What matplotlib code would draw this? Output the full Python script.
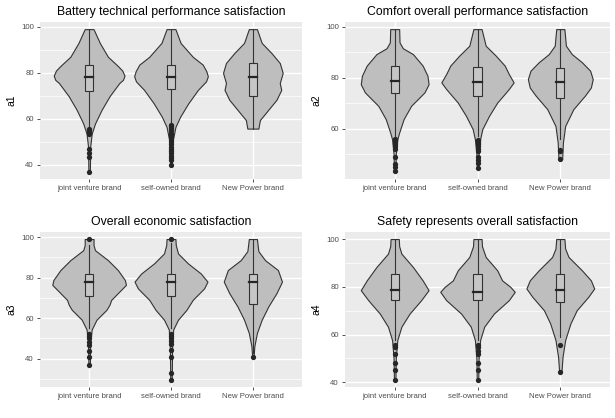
import matplotlib
matplotlib.use("Agg")
import matplotlib.pyplot as plt
from matplotlib.patches import Rectangle
from matplotlib.ticker import MultipleLocator

plt.rcParams['font.family'] = ['Liberation Sans', 'DejaVu Sans']

brands = ["joint venture brand", "self-owned brand", "New Power brand"]
titles = ["Battery technical performance satisfaction",
          "Comfort overall performance satisfaction",
          "Overall economic satisfaction",
          "Safety represents overall satisfaction"]
ylabels = ["a1", "a2", "a3", "a4"]

# violin outlines: (value, relative half width)
a1_joint = [(99, .12), (93, .29), (87, .51), (83, .78), (81, .90), (78.8, .96), (77, .92),
            (75.6, .82), (70, .56), (64, .34), (58, .16), (53.6, .07), (48, .03), (37, .02)]
a1_self = [(99, .12), (93, .26), (87, .59), (83.6, .86), (80.7, .96), (78.5, 1.0), (76.3, .95),
           (72.6, .73), (66.8, .47), (61, .25), (56.5, .12), (50, .04), (40, .02)]
a1_new = [(99, .11), (93, .24), (88.7, .50), (84.3, .73), (80, .81), (75.6, .73), (72.6, .77),
          (68.3, .64), (64, .42), (59.5, .19), (55.8, .15)]

a2_joint = [(99, .12), (93.8, .13), (91.5, .22), (89.2, .49), (84.7, .75), (80.7, .88), (77.4, .91),
            (74.2, .80), (68.9, .44), (63.7, .24), (58.4, .12), (55.8, .07), (50, .03), (43, .02)]
a2_self = [(99, .11), (92.5, .22), (88.6, .49), (84.7, .73), (81.4, .84), (78.1, .97), (75.5, .84),
           (70.2, .53), (65, .31), (59.8, .13), (55.8, .07), (50, .03), (44.5, .02)]
a2_new = [(99, .11), (92.5, .15), (89.2, .31), (86, .58), (82.7, .80), (79.4, .87), (76.1, .82),
          (72.9, .66), (67.6, .35), (61, .13), (54.5, .07), (48, .05)]

a3_joint = [(99, .12), (96, .12), (93.5, .16), (88.6, .51), (83.7, .78), (78.8, .97), (76.4, 1.0),
            (73.1, .82), (69, .60), (66.5, .55), (64.1, .47), (59.2, .20), (54.4, .07), (48, .03), (37, .02)]
a3_self = [(99, .12), (96, .13), (91.9, .19), (87, .46), (82, .81), (78, .99), (74.7, .90),
           (69, .59), (64.1, .42), (59.2, .19), (54.4, .06), (45, .03), (29.5, .02)]
a3_new = [(99, .11), (93, .15), (88.6, .33), (83.7, .68), (78, .79), (72.3, .64), (65.8, .42),
          (59.2, .24), (52.7, .11), (46.2, .04), (41, .02)]

a4_joint = [(100, .11), (97, .12), (93.9, .18), (88.3, .49), (82.7, .75), (78.6, .91), (74.4, .71),
            (68.8, .40), (63.3, .18), (57.7, .07), (50, .03), (41, .02)]
a4_self = [(100, .11), (97, .12), (92.5, .22), (86.9, .53), (82.7, .66), (80, .88), (77.9, 1.0),
           (74.4, .84), (68.8, .44), (63.3, .18), (57.7, .07), (50, .03), (41, .02)]
a4_new = [(100, .11), (96, .13), (92.5, .22), (86.9, .58), (82.7, .82), (79.3, .91), (75.8, .75),
          (70.2, .44), (64.6, .27), (57.7, .13), (50.7, .06), (44.3, .03)]

# box stats per brand: whisker low, q1, median, q3, whisker high
a1_box = [[56.5, 72.3, 78, 83.3, 99], [58, 73.2, 78, 83.3, 99], [55.8, 70, 78, 84.3, 99]]
a2_box = [[56.5, 73.8, 78.8, 84.7, 99], [57, 72.9, 78.1, 84, 99], [55.8, 72, 78.1, 83.7, 99]]
a3_box = [[55.2, 70.7, 78, 81.7, 96], [55.2, 70.7, 78, 81.7, 97], [43, 66.9, 78, 81.7, 99]]
a4_box = [[57.7, 74.4, 78.6, 85.2, 100], [57.7, 74.4, 77.9, 85.2, 100], [59, 73.7, 78.6, 85.2, 100]]

a1_out = [[55.5, 55, 54.5, 54, 53.5, 47, 45, 43.5, 37],
          [57.5, 57, 56, 55, 54, 53, 52, 51, 50, 49, 48, 47, 46, 45, 44, 43, 42, 40],
          []]
a2_out = [[56, 55.5, 55, 54.5, 54, 53, 52, 49, 46, 45, 43.5],
          [55.5, 55, 54.5, 54, 53, 52, 51, 49, 47.5, 46.5, 44.5],
          [51.5, 51, 48]]
a3_out = [[99, 52, 51, 50, 48, 46.5, 44, 41, 37],
          [99, 52, 51, 50, 48.5, 47, 44.5, 41, 33, 29.5],
          [41]]
a4_out = [[55.5, 55, 52, 48, 45, 41],
          [55.5, 55, 53, 52, 48, 45, 41],
          [55.5, 44.3]]

panels = [
    ([a1_joint, a1_self, a1_new], a1_box, a1_out),
    ([a2_joint, a2_self, a2_new], a2_box, a2_out),
    ([a3_joint, a3_self, a3_new], a3_box, a3_out),
    ([a4_joint, a4_self, a4_new], a4_box, a4_out),
]

W, H = 615, 418
# axes rectangles in pixels: left, top, right, bottom
rects = [(40, 22, 302, 179), (345, 22, 610, 179),
         (40, 232, 302, 387), (345, 232, 610, 387)]

fig = plt.figure(figsize=(W / 100, H / 100), dpi=100)

for i, (profiles, boxes, outs) in enumerate(panels):
    l, t, r, b = rects[i]
    ax = fig.add_axes([l / W, 1 - b / H, (r - l) / W, (b - t) / H])
    ax.set_facecolor('#EBEBEB')
    for s in ax.spines.values():
        s.set_visible(False)

    lo = min(min(v for v, _ in p) for p in profiles)
    hi = max(max(v for v, _ in p) for p in profiles)
    pad = 0.05 * (hi - lo)
    ax.set_ylim(lo - pad, hi + pad)
    ax.set_xlim(0.4, 3.6)

    for k in range(3):
        x = k + 1
        vals = [v for v, _ in profiles[k]]
        half = [w * 0.45 for _, w in profiles[k]]
        ax.fill_betweenx(vals, [x - h for h in half], [x + h for h in half],
                         facecolor='#BEBEBE', edgecolor='#333333', lw=0.8, zorder=2)
        wl, q1, med, q3, wh = boxes[k]
        ax.plot([x, x], [wl, q1], color='#333333', lw=0.8, zorder=3)
        ax.plot([x, x], [q3, wh], color='#333333', lw=0.8, zorder=3)
        ax.add_patch(Rectangle((x - 0.05, q1), 0.1, q3 - q1, facecolor='#C6C6C6',
                               edgecolor='#333333', lw=0.8, zorder=3))
        ax.plot([x - 0.05, x + 0.05], [med, med], color='#262626', lw=1.6, zorder=4)
        if outs[k]:
            ax.plot([x] * len(outs[k]), outs[k], 'o', color='#262626', ms=3.8,
                    mec='none', zorder=5)

    ax.yaxis.set_major_locator(MultipleLocator(20))
    ax.yaxis.set_minor_locator(MultipleLocator(10))
    ax.set_xticks([1, 2, 3])
    ax.set_xticklabels(brands)
    ax.grid(which='major', color='white', lw=1.0)
    ax.grid(which='minor', axis='y', color='white', lw=0.5)
    ax.set_axisbelow(True)
    ax.tick_params(which='major', length=2.5, width=0.6, color='#333333',
                   labelsize=5.6, labelcolor='#4D4D4D', pad=2)
    ax.tick_params(which='minor', length=0)
    ax.set_ylabel(ylabels[i], fontsize=7.5, labelpad=3)
    ax.set_title(titles[i], fontsize=8.8, pad=5)

fig.savefig("out.png", dpi=100)
